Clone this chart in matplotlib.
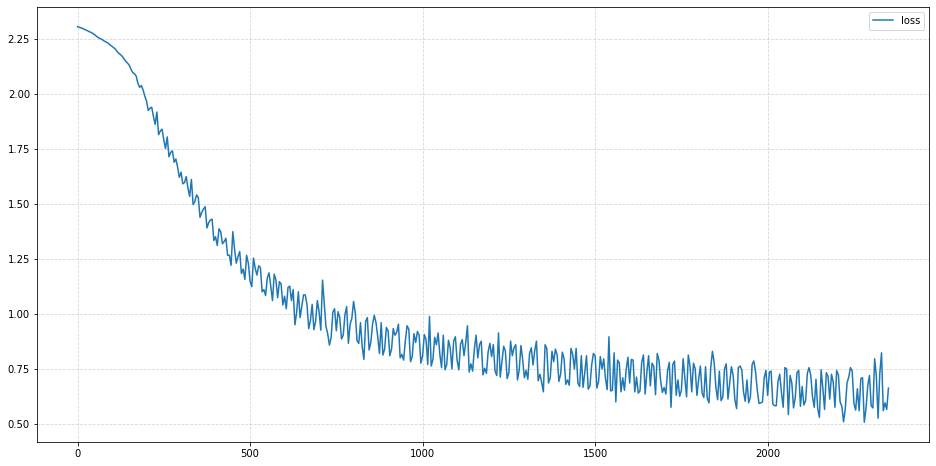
import matplotlib
matplotlib.use('Agg')
import matplotlib.pyplot as plt
import numpy as np


# loss: values at iterations 0, 10, 20, ...
STEP = 10
loss_0000 = [
    2.305, 2.300, 2.293, 2.286, 2.279, 2.268, 2.256, 2.248, 2.238, 2.229,
    2.216, 2.203, 2.184, 2.170, 2.148, 2.130, 2.097, 2.081, 2.030, 2.018,
    1.968, 1.935, 1.898, 1.918, 1.832, 1.792, 1.805, 1.735, 1.690, 1.668,
    1.645, 1.598, 1.572, 1.612, 1.512, 1.530, 1.462, 1.488, 1.415, 1.432,
    1.352, 1.388, 1.320, 1.345, 1.268, 1.375, 1.232, 1.285, 1.205, 1.268,
]
loss_0500 = [
    1.150, 1.255, 1.178, 1.212, 1.112, 1.165, 1.128, 1.182, 1.075, 1.138,
    1.082, 1.122, 1.062, 0.952, 1.102, 1.035, 1.088, 0.935, 1.045, 0.968,
    1.012, 1.155, 0.945, 0.860, 1.010, 0.925, 0.985, 0.905, 1.035, 0.955,
    1.058, 0.880, 0.962, 0.795, 0.985, 0.872, 0.995, 0.898, 0.962, 0.842,
    0.925, 0.842, 0.905, 0.955, 0.818, 0.880, 0.932, 0.808, 0.872, 0.905,
]
loss_1000 = [
    0.812, 0.885, 0.990, 0.795, 0.862, 0.818, 0.905, 0.772, 0.848, 0.878,
    0.792, 0.865, 0.812, 0.948, 0.775, 0.842, 0.802, 0.878, 0.755, 0.830,
    0.808, 0.742, 0.915, 0.785, 0.832, 0.735, 0.812, 0.862, 0.748, 0.795,
    0.745, 0.822, 0.770, 0.878, 0.728, 0.648, 0.845, 0.712, 0.785, 0.815,
    0.728, 0.798, 0.702, 0.845, 0.752, 0.688, 0.812, 0.735, 0.660, 0.770,
]
loss_1500 = [
    0.812, 0.695, 0.752, 0.708, 0.898, 0.655, 0.602, 0.780, 0.712, 0.748,
    0.688, 0.792, 0.715, 0.652, 0.815, 0.738, 0.675, 0.762, 0.822, 0.695,
    0.668, 0.745, 0.578, 0.788, 0.702, 0.655, 0.712, 0.815, 0.648, 0.752,
    0.705, 0.642, 0.762, 0.598, 0.832, 0.668, 0.742, 0.625, 0.775, 0.690,
    0.722, 0.572, 0.765, 0.648, 0.702, 0.625, 0.788, 0.655, 0.598, 0.712,
]
loss_2000 = [
    0.632, 0.742, 0.585, 0.695, 0.645, 0.758, 0.545, 0.688, 0.622, 0.745,
    0.672, 0.608, 0.758, 0.625, 0.705, 0.532, 0.662, 0.735, 0.615, 0.692,
    0.745, 0.602, 0.512, 0.688, 0.758, 0.595, 0.662, 0.708, 0.510, 0.675,
    0.585, 0.798, 0.528, 0.825, 0.598, 0.665,
]

# values in between: iterations 5, 15, 25, ...
mid_0000 = [
    2.303, 2.297, 2.290, 2.282, 2.274, 2.262, 2.252, 2.243, 2.234, 2.222,
    2.210, 2.192, 2.178, 2.158, 2.140, 2.112, 2.092, 2.048, 2.038, 1.990,
    1.925, 1.940, 1.862, 1.815, 1.840, 1.752, 1.715, 1.742, 1.705, 1.622,
    1.592, 1.625, 1.535, 1.498, 1.542, 1.440, 1.478, 1.392, 1.428, 1.335,
    1.312, 1.375, 1.330, 1.268, 1.222, 1.298, 1.262, 1.185, 1.158, 1.232,
]
mid_0500 = [
    1.125, 1.208, 1.220, 1.102, 1.085, 1.188, 1.062, 1.155, 1.148, 1.042,
    1.025, 1.128, 1.112, 1.008, 0.985, 1.088, 1.045, 0.972, 0.930, 1.062,
    0.928, 1.048, 0.912, 0.895, 1.025, 1.012, 0.888, 0.998, 0.868, 0.982,
    1.005, 0.868, 0.852, 0.968, 0.838, 0.955, 0.962, 0.822, 0.815, 0.940,
    0.812, 0.935, 0.918, 0.802, 0.792, 0.948, 0.785, 0.912, 0.922, 0.778,
]
mid_1000 = [
    0.908, 0.772, 0.765, 0.895, 0.915, 0.758, 0.748, 0.882, 0.752, 0.898,
    0.748, 0.885, 0.872, 0.738, 0.742, 0.905, 0.862, 0.725, 0.732, 0.868,
    0.862, 0.722, 0.715, 0.855, 0.708, 0.878, 0.848, 0.702, 0.858, 0.712,
    0.705, 0.848, 0.835, 0.698, 0.692, 0.862, 0.688, 0.832, 0.842, 0.695,
    0.828, 0.682, 0.678, 0.818, 0.845, 0.672, 0.668, 0.812, 0.675, 0.822,
]
mid_1500 = [
    0.665, 0.808, 0.798, 0.658, 0.652, 0.825, 0.792, 0.648, 0.655, 0.805,
    0.795, 0.648, 0.642, 0.782, 0.638, 0.812, 0.778, 0.635, 0.792, 0.645,
    0.638, 0.782, 0.772, 0.632, 0.628, 0.798, 0.625, 0.765, 0.778, 0.632,
    0.765, 0.622, 0.618, 0.758, 0.782, 0.612, 0.608, 0.752, 0.615, 0.762,
    0.612, 0.758, 0.748, 0.605, 0.598, 0.772, 0.738, 0.595, 0.602, 0.745,
]
mid_2000 = [
    0.738, 0.592, 0.585, 0.728, 0.578, 0.752, 0.722, 0.575, 0.735, 0.582,
    0.588, 0.732, 0.722, 0.578, 0.572, 0.748, 0.568, 0.718, 0.728, 0.578,
    0.725, 0.582, 0.572, 0.715, 0.742, 0.565, 0.562, 0.712, 0.572, 0.722,
    0.575, 0.718, 0.732, 0.562, 0.568,
]

LINE_COLOR = '#1f77b4'


def build_series():
    coarse = np.array(loss_0000 + loss_0500 + loss_1000 + loss_1500 + loss_2000)
    mids = np.array(mid_0000 + mid_0500 + mid_1000 + mid_1500 + mid_2000)
    loss = np.empty(len(coarse) + len(mids))
    loss[0::2] = coarse
    loss[1::2] = mids
    steps = np.arange(len(loss)) * (STEP // 2)
    return steps, loss


def main():
    steps, loss = build_series()

    fig = plt.figure(figsize=(936 / 72, 466 / 72), dpi=72)
    ax = fig.add_axes([0.0395, 0.0515, 0.953, 0.9335])

    ax.plot(steps, loss, color=LINE_COLOR, linewidth=1.5, label='loss')
    ax.grid(True, linestyle='--', color='#b0b0b0', alpha=0.5)
    ax.set_yticks([0.50, 0.75, 1.00, 1.25, 1.50, 1.75, 2.00, 2.25])
    ax.tick_params(labelsize=10)
    ax.legend(loc='upper right')

    fig.savefig('out.png', dpi=72)
    plt.close(fig)


if __name__ == '__main__':
    main()
